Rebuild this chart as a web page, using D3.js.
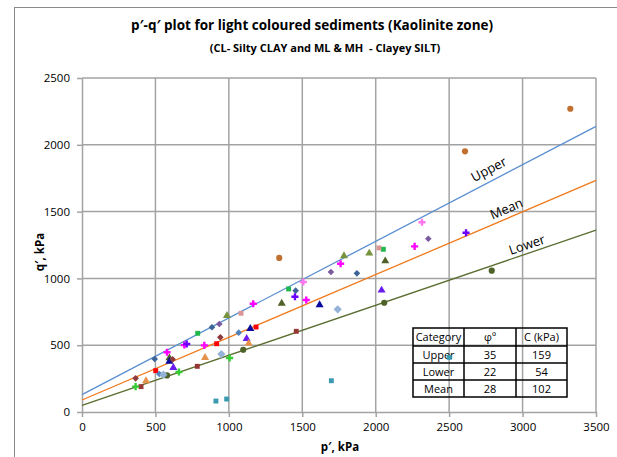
<!DOCTYPE html>
<html>
<head>
<meta charset="utf-8">
<script src="https://cdn.jsdelivr.net/npm/d3@7"></script>
<style>
  body { margin: 0; background: #fff; }
  svg { display: block; font-family: "Open Sans", "Liberation Sans", sans-serif; }
</style>
</head>
<body>
<svg id="chart" width="617" height="457"></svg>
<script>
// tick values
const xTicks = [0, 500, 1000, 1500, 2000, 2500, 3000, 3500];
const yTicks = [0, 500, 1000, 1500, 2000, 2500];

// failure envelopes (p', q' at both ends)
const upperLine = [[0, 130], [3500, 2138]];
const meanLine = [[0, 90], [3500, 1733]];
const lowerLine = [[0, 50], [3500, 1361]];

// table
const tableHead = ['Category', 'φº', 'C (kPa)'];
const tableCats = ['Upper', 'Lower', 'Mean'];
const tablePhi = [35, 22, 28];
const tableC = [159, 54, 102];

// sample points [p', q'] in kPa
const brownCircles = [[1343, 1153], [2608, 1951], [3325, 2270]];
const oliveCircles = [[579, 274], [1098, 466], [2058, 818], [2790, 1058]];
const tealSquares = [[912, 82], [985, 97], [1698, 234], [2501, 409]];
const greenSquares = [[788, 589], [1407, 921], [2052, 1218]];
const pinkSquares = [[1083, 739], [2022, 1228]];
const redSquares = [[502, 309], [917, 511], [1185, 636]];
const maroonSquares = [[402, 190], [785, 342], [1459, 604]];
const lightOliveTris = [[987, 721], [1784, 1168], [1956, 1188]];
const darkOliveTris = [[595, 404], [1360, 813], [2065, 1130]];
const navyTris = [[595, 379], [1146, 624], [1618, 801]];
const violetTris = [[622, 332], [1121, 549], [2040, 911]];
const orangeTris = [[436, 232], [838, 407], [1135, 514]];
const maroonDiamonds = [[365, 252], [617, 394], [942, 559]];
const blueDiamonds = [[495, 397], [885, 634], [1455, 908], [1872, 1038]];
const steelDiamonds = [[527, 284], [1067, 594]];
const purpleDiamonds = [[935, 659], [1695, 1048], [2358, 1297]];
const paleDiamonds = [[554, 279], [949, 434], [1741, 769]];
const magentaCrosses = [[579, 447], [697, 501], [833, 499], [1166, 810], [1527, 838], [1761, 1110], [2265, 1240]];
const pinkCrosses = [[1507, 973], [2315, 1420]];
const violetCrosses = [[713, 509], [1450, 863], [2615, 1342]];
const greenCrosses = [[365, 190], [660, 299], [1005, 404]];

const sq = d3.symbolSquare;
const series = [
  { data: tealSquares, color: '#3a9ab0', shape: sq, size: 24, rot: 0 },
  { data: brownCircles, color: '#c0712f', shape: d3.symbolCircle, size: 30, rot: 0 },
  { data: oliveCircles, color: '#4f6228', shape: d3.symbolCircle, size: 30, rot: 0 },
  { data: greenSquares, color: '#1fb84a', shape: sq, size: 24, rot: 0 },
  { data: pinkSquares, color: '#d99694', shape: sq, size: 24, rot: 0 },
  { data: redSquares, color: '#ff0000', shape: sq, size: 24, rot: 0 },
  { data: maroonSquares, color: '#953735', shape: sq, size: 24, rot: 0 },
  { data: lightOliveTris, color: '#77933c', shape: d3.symbolTriangle, size: 28, rot: 0 },
  { data: darkOliveTris, color: '#4f6228', shape: d3.symbolTriangle, size: 28, rot: 0 },
  { data: navyTris, color: '#0a0aa0', shape: d3.symbolTriangle, size: 28, rot: 0 },
  { data: violetTris, color: '#6a1cf0', shape: d3.symbolTriangle, size: 28, rot: 0 },
  { data: orangeTris, color: '#e6924a', shape: d3.symbolTriangle, size: 28, rot: 0 },
  { data: maroonDiamonds, color: '#8c3a3a', shape: sq, size: 22, rot: 45 },
  { data: blueDiamonds, color: '#3c6496', shape: sq, size: 22, rot: 45 },
  { data: steelDiamonds, color: '#4f81bd', shape: sq, size: 22, rot: 45 },
  { data: purpleDiamonds, color: '#7a5c9e', shape: sq, size: 22, rot: 45 },
  { data: paleDiamonds, color: '#95b3d7', shape: sq, size: 34, rot: 45 },
  { data: magentaCrosses, color: '#ff00ff', shape: d3.symbolCross, size: 28, rot: 0 },
  { data: pinkCrosses, color: '#ff77ee', shape: d3.symbolCross, size: 28, rot: 0 },
  { data: violetCrosses, color: '#6b00ff', shape: d3.symbolCross, size: 28, rot: 0 },
  { data: greenCrosses, color: '#33cc33', shape: d3.symbolCross, size: 28, rot: 0 }
];

const svg = d3.select('#chart');
const x = d3.scaleLinear().domain([0, 3500]).range([82, 596]);
const y = d3.scaleLinear().domain([0, 2500]).range([412, 78]);
const grid = '#a3a3a3';

// outer chart border
svg.append('rect')
  .attr('x', 14.5).attr('y', 7.5)
  .attr('width', 620).attr('height', 470)
  .attr('fill', 'none').attr('stroke', '#8a8a8a');

// titles
svg.append('text')
  .attr('x', 312).attr('y', 30)
  .attr('text-anchor', 'middle')
  .attr('font-weight', 'bold').attr('font-size', 13.5)
  .text('p′-q′ plot for light coloured sediments (Kaolinite zone)');
svg.append('text')
  .attr('x', 325).attr('y', 52)
  .attr('text-anchor', 'middle')
  .attr('font-weight', 'bold').attr('font-size', 11)
  .style('white-space', 'pre')
  .text('(CL- Silty CLAY and ML & MH  - Clayey SILT)');

// gridlines
svg.append('g').selectAll('line')
  .data(yTicks.filter(d => d > 0))
  .join('line')
  .attr('x1', x(0)).attr('x2', x(3500))
  .attr('y1', d => y(d)).attr('y2', d => y(d))
  .attr('stroke', grid).attr('stroke-width', 1.5);
svg.append('g').selectAll('line')
  .data(xTicks.filter(d => d > 0))
  .join('line')
  .attr('x1', d => x(d)).attr('x2', d => x(d))
  .attr('y1', y(0)).attr('y2', y(2500))
  .attr('stroke', grid).attr('stroke-width', 1.5);

// axes
const fmt = d3.format('d');
const xAxis = svg.append('g')
  .attr('transform', `translate(0,${y(0)})`)
  .call(d3.axisBottom(x).tickValues(xTicks).tickFormat(fmt).tickSize(5).tickSizeOuter(0).tickPadding(6));
const yAxis = svg.append('g')
  .attr('transform', `translate(${x(0)},0)`)
  .call(d3.axisLeft(y).tickValues(yTicks).tickFormat(fmt).tickSize(5).tickSizeOuter(0).tickPadding(7));
[xAxis, yAxis].forEach(a => {
  a.select('.domain').attr('stroke', grid).attr('stroke-width', 1.5);
  a.selectAll('.tick line').attr('stroke', grid).attr('stroke-width', 1.5);
  a.selectAll('.tick text').attr('font-size', 11.5).attr('fill', '#000')
    .style('font-family', '"Open Sans", sans-serif');
});

// axis titles
svg.append('text')
  .attr('x', 340).attr('y', 451)
  .attr('text-anchor', 'middle')
  .attr('font-weight', 'bold').attr('font-size', 11.5)
  .text('p′, kPa');
svg.append('text')
  .attr('transform', 'translate(44,252) rotate(-90)')
  .attr('text-anchor', 'middle')
  .attr('font-weight', 'bold').attr('font-size', 11.5)
  .text('q′, kPa');

// table (no fill, grid shows through)
const colX = [413, 464, 516, 567];
const rowY = [328, 346, 363, 380, 397];
const tbl = svg.append('g');
tbl.append('rect')
  .attr('x', colX[0]).attr('y', rowY[0])
  .attr('width', colX[3] - colX[0]).attr('height', rowY[4] - rowY[0])
  .attr('fill', 'none').attr('stroke', '#000').attr('stroke-width', 1.5);
rowY.slice(1, 4).forEach(r => tbl.append('line')
  .attr('x1', colX[0]).attr('x2', colX[3]).attr('y1', r).attr('y2', r)
  .attr('stroke', '#000').attr('stroke-width', 1.5));
colX.slice(1, 3).forEach(c => tbl.append('line')
  .attr('x1', c).attr('x2', c).attr('y1', rowY[0]).attr('y2', rowY[4])
  .attr('stroke', '#000').attr('stroke-width', 1.5));
const rows = [tableHead].concat(tableCats.map((c, i) => [c, tablePhi[i], tableC[i]]));
rows.forEach((row, ri) => {
  row.forEach((v, ci) => {
    tbl.append('text')
      .attr('x', (colX[ci] + colX[ci + 1]) / 2)
      .attr('y', rowY[ri] + 13)
      .attr('text-anchor', 'middle')
      .attr('font-size', 11)
      .text(v);
  });
});

// envelope lines
const envelopes = [
  { data: upperLine, color: '#5b8fd0', label: 'Upper', at: 2770, off: 13 },
  { data: meanLine, color: '#f07a1c', label: 'Mean', at: 2890, off: 10 },
  { data: lowerLine, color: '#5a6e30', label: 'Lower', at: 3030, off: 9 }
];
const line = d3.line().x(d => x(d[0])).y(d => y(d[1]));
envelopes.forEach(e => {
  svg.append('path')
    .attr('d', line(e.data))
    .attr('fill', 'none')
    .attr('stroke', e.color)
    .attr('stroke-width', 1.3);
  const [p0, p1] = e.data;
  const ang = Math.atan2(y(p1[1]) - y(p0[1]), x(p1[0]) - x(p0[0])) * 180 / Math.PI;
  const qAt = p0[1] + (p1[1] - p0[1]) * (e.at - p0[0]) / (p1[0] - p0[0]);
  svg.append('text')
    .attr('transform', `translate(${x(e.at)},${y(qAt) - e.off}) rotate(${ang})`)
    .attr('text-anchor', 'middle')
    .attr('dy', '0.35em')
    .attr('font-size', 13)
    .text(e.label);
});

// markers
series.forEach(s => {
  svg.append('g').selectAll('path')
    .data(s.data)
    .join('path')
    .attr('transform', d => `translate(${x(d[0])},${y(d[1])}) rotate(${s.rot})`)
    .attr('d', d3.symbol(s.shape, s.size))
    .attr('fill', s.color);
});
</script>
</body>
</html>
